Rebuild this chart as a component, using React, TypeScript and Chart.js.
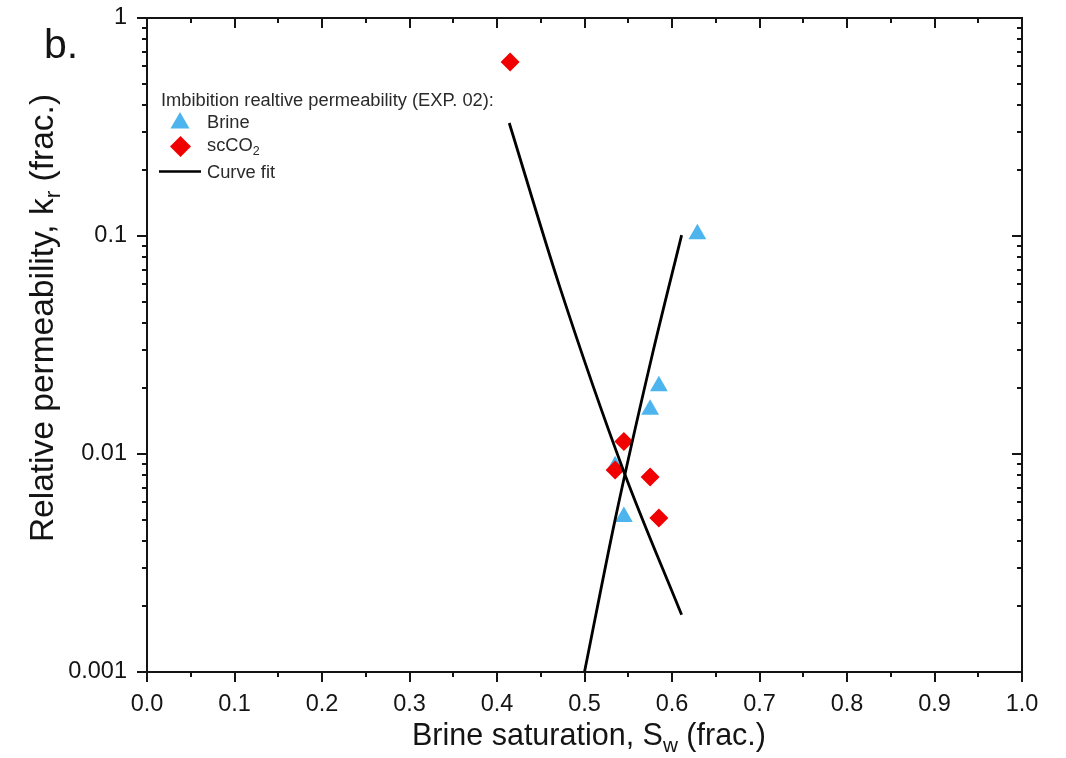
import React, { useEffect, useRef } from 'react';
import { Chart, registerables } from 'chart.js';

Chart.register(...registerables);

// ---- Data ----
const brineSw = [0.629, 0.585, 0.575, 0.535, 0.545];
const brineKr = [0.102, 0.0205, 0.016, 0.0088, 0.00515];

const co2Sw = [0.415, 0.545, 0.535, 0.575, 0.585];
const co2Kr = [0.628, 0.0114, 0.00845, 0.00784, 0.00508];

const brineFitSw = [0.5, 0.535, 0.577, 0.611];
const brineFitKr = [0.001, 0.005, 0.028, 0.101];

const co2FitSw = [0.414, 0.472, 0.545, 0.611];
const co2FitKr = [0.33, 0.058, 0.0083, 0.00183];

const xTickValues = [0, 0.1, 0.2, 0.3, 0.4, 0.5, 0.6, 0.7, 0.8, 0.9, 1.0];
const yTickValues = [0.001, 0.01, 0.1, 1];
const yTickLabels = ['0.001', '0.01', '0.1', '1'];

const legendTitle = 'Imbibition realtive permeability (EXP. 02):';
const panelLabel = 'b.';

const BLUE = 'rgb(77,180,238)';
const RED = 'rgb(240,0,0)';
const INK = '#141414';
const FONT = 'Arial, "Liberation Sans", Helvetica, sans-serif';

type Part = { t: string; sub?: boolean };

function drawRich(ctx: CanvasRenderingContext2D, parts: Part[], x: number, y: number, size: number, align: 'left' | 'center') {
  const subSize = size * 0.68;
  let total = 0;
  const widths = parts.map((p) => {
    ctx.font = `${p.sub ? subSize : size}px ${FONT}`;
    const w = ctx.measureText(p.t).width;
    total += w;
    return w;
  });
  let cx = align === 'center' ? x - total / 2 : x;
  ctx.textAlign = 'left';
  ctx.textBaseline = 'alphabetic';
  parts.forEach((p, i) => {
    ctx.font = `${p.sub ? subSize : size}px ${FONT}`;
    ctx.fillText(p.t, cx, p.sub ? y + size * 0.22 : y);
    cx += widths[i];
  });
}

const framePlugin = {
  id: 'frame',
  afterDraw(chart: any) {
    const { ctx, chartArea: a, scales } = chart;
    const xs = scales.x;
    const ys = scales.y;
    ctx.save();
    ctx.strokeStyle = INK;
    ctx.lineWidth = 2;
    ctx.lineCap = 'butt';
    ctx.beginPath();
    // x ticks (major 0.1, minor 0.05)
    for (let i = 0; i <= 20; i++) {
      const px = Math.round(xs.getPixelForValue(i * 0.05));
      const L = i % 2 === 0 ? 10 : 5;
      ctx.moveTo(px, a.bottom);
      ctx.lineTo(px, a.bottom + L);
      ctx.moveTo(px, a.top);
      ctx.lineTo(px, a.top + L);
    }
    // y ticks (log)
    for (let d = -3; d <= 0; d++) {
      for (let k = 1; k <= 9; k++) {
        if (d === 0 && k > 1) break;
        const v = k * Math.pow(10, d);
        const py = Math.round(ys.getPixelForValue(v));
        const L = k === 1 ? 10 : 5;
        ctx.moveTo(a.left, py);
        ctx.lineTo(a.left - L, py);
        ctx.moveTo(a.right, py);
        ctx.lineTo(a.right - L, py);
      }
    }
    ctx.stroke();
    ctx.strokeRect(a.left, a.top, a.right - a.left, a.bottom - a.top);

    ctx.fillStyle = INK;
    // x title
    drawRich(ctx, [{ t: 'Brine saturation, S' }, { t: 'w', sub: true }, { t: ' (frac.)' }], 589, 745, 30.5, 'center');
    // y title
    ctx.save();
    ctx.translate(53, 318);
    ctx.rotate(-Math.PI / 2);
    drawRich(ctx, [{ t: 'Relative permeability, k' }, { t: 'r', sub: true }, { t: ' (frac.)' }], 0, 0, 33.5, 'center');
    ctx.restore();

    // panel label
    ctx.font = `41px ${FONT}`;
    ctx.textAlign = 'left';
    ctx.textBaseline = 'alphabetic';
    ctx.fillText(panelLabel, 44, 58);

    // legend
    ctx.fillStyle = '#2a2a2a';
    ctx.font = `18.3px ${FONT}`;
    ctx.fillText(legendTitle, 161, 106);
    drawRich(ctx, [{ t: 'Brine' }], 207, 128, 18.3, 'left');
    drawRich(ctx, [{ t: 'scCO' }, { t: '2', sub: true }], 207, 151, 18.3, 'left');
    drawRich(ctx, [{ t: 'Curve fit' }], 207, 178, 18.3, 'left');
    // triangle
    const tr = 11;
    ctx.fillStyle = BLUE;
    ctx.beginPath();
    ctx.moveTo(180, 123 - tr);
    ctx.lineTo(180 + tr * Math.sqrt(3) / 2, 123 + tr / 2);
    ctx.lineTo(180 - tr * Math.sqrt(3) / 2, 123 + tr / 2);
    ctx.closePath();
    ctx.fill();
    // diamond
    const dr = 10.5;
    ctx.fillStyle = RED;
    ctx.beginPath();
    ctx.moveTo(180.5, 146.5 - dr);
    ctx.lineTo(180.5 + dr, 146.5);
    ctx.lineTo(180.5, 146.5 + dr);
    ctx.lineTo(180.5 - dr, 146.5);
    ctx.closePath();
    ctx.fill();
    // line
    ctx.strokeStyle = '#000';
    ctx.lineWidth = 2.6;
    ctx.beginPath();
    ctx.moveTo(159, 171.5);
    ctx.lineTo(201, 171.5);
    ctx.stroke();
    ctx.restore();
  },
};

export default function App() {
  const ref = useRef<HTMLCanvasElement | null>(null);

  useEffect(() => {
    document.body.style.margin = '0';
    const canvas = ref.current;
    if (!canvas) return;
    const toPts = (xs: number[], ys: number[]) => xs.map((x, i) => ({ x, y: ys[i] }));
    const chart = new Chart(canvas, {
      type: 'scatter',
      data: {
        datasets: [
          {
            label: 'Brine fit',
            data: toPts(brineFitSw, brineFitKr),
            showLine: true,
            borderColor: '#000',
            borderWidth: 2.8,
            pointRadius: 0,
            cubicInterpolationMode: 'monotone',
            order: 0,
          } as any,
          {
            label: 'scCO2 fit',
            data: toPts(co2FitSw, co2FitKr),
            showLine: true,
            borderColor: '#000',
            borderWidth: 2.8,
            pointRadius: 0,
            cubicInterpolationMode: 'monotone',
            order: 0,
          } as any,
          {
            label: 'scCO2',
            data: toPts(co2Sw, co2Kr),
            pointStyle: 'rectRot',
            pointRadius: 9.5,
            backgroundColor: RED,
            borderWidth: 0,
            order: 1,
          },
          {
            label: 'Brine',
            data: toPts(brineSw, brineKr),
            pointStyle: 'triangle',
            pointRadius: 10.3,
            backgroundColor: BLUE,
            borderWidth: 0,
            order: 2,
          },
        ],
      },
      options: {
        responsive: false,
        animation: false,
        devicePixelRatio: 1,
        layout: { padding: { left: 0, top: 18, right: 44, bottom: 0 } },
        plugins: { legend: { display: false }, tooltip: { enabled: false } },
        scales: {
          x: {
            type: 'linear',
            min: 0,
            max: 1,
            grid: { display: false, drawTicks: false },
            border: { display: false },
            afterBuildTicks: (s: any) => {
              s.ticks = xTickValues.map((v) => ({ value: v }));
            },
            afterFit: (s: any) => {
              s.height = 86;
              s.paddingLeft = 0;
              s.paddingRight = 0;
              s.paddingTop = 0;
              s.paddingBottom = 0;
            },
            ticks: {
              autoSkip: false,
              maxRotation: 0,
              padding: 18,
              color: INK,
              font: { family: FONT, size: 23.5 },
              callback: (v: any) => Number(v).toFixed(1),
            },
          },
          y: {
            type: 'logarithmic',
            min: 0.001,
            max: 1,
            grid: { display: false, drawTicks: false },
            border: { display: false },
            afterBuildTicks: (s: any) => {
              s.ticks = yTickValues.map((v) => ({ value: v }));
            },
            afterFit: (s: any) => {
              s.width = 147;
              s.paddingLeft = 0;
              s.paddingRight = 0;
              s.paddingTop = 0;
              s.paddingBottom = 0;
            },
            ticks: {
              autoSkip: false,
              padding: 20,
              color: INK,
              font: { family: FONT, size: 23.5 },
              callback: (v: any) => {
                const i = yTickValues.findIndex((t) => Math.abs(t - Number(v)) < 1e-9);
                return i >= 0 ? yTickLabels[i] : '';
              },
            },
          },
        },
      },
      plugins: [framePlugin],
    });
    return () => chart.destroy();
  }, []);

  return (
    <div style={{ width: 1066, height: 758, background: '#fff' }}>
      <canvas ref={ref} width={1066} height={758} style={{ display: 'block' }} />
    </div>
  );
}
